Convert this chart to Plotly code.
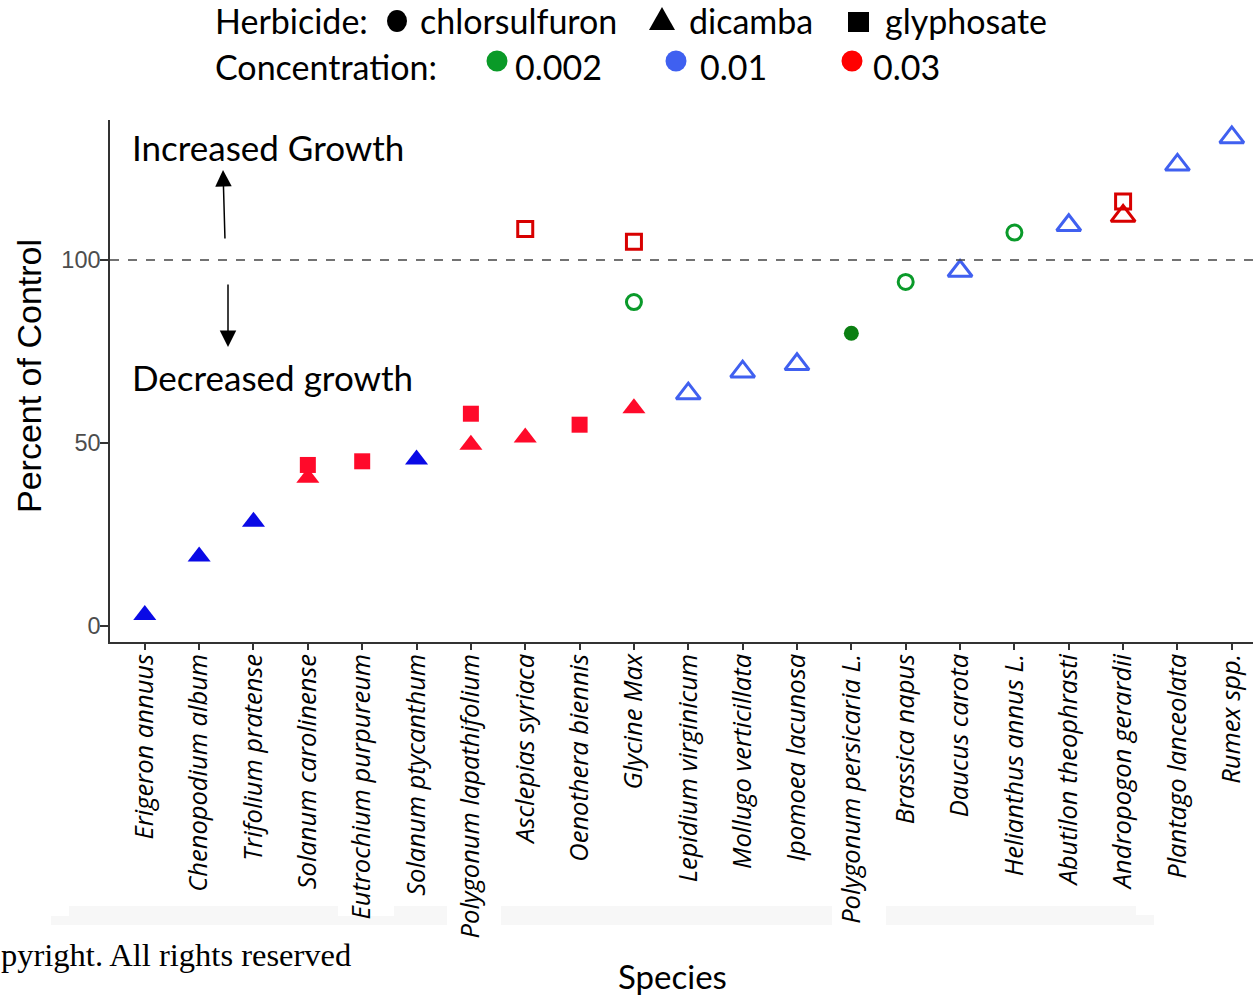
import plotly.graph_objects as go

# ---------------- data ----------------
species = [
    "Erigeron annuus", "Chenopodium album", "Trifolium pratense", "Solanum carolinense",
    "Eutrochium purpureum", "Solanum ptycanthum", "Polygonum lapathifolium",
    "Asclepias syriaca", "Oenothera biennis", "Glycine Max", "Lepidium virginicum",
    "Mollugo verticillata", "Ipomoea lacunosa", "Polygonum persicaria L.",
    "Brassica napus", "Daucus carota", "Helianthus annus L.", "Abutilon theophrasti",
    "Andropogon gerardii", "Plantago lanceolata", "Rumex spp.",
]

pt_species = [
    "Erigeron annuus", "Chenopodium album", "Trifolium pratense",
    "Solanum carolinense", "Solanum carolinense", "Eutrochium purpureum",
    "Solanum ptycanthum", "Polygonum lapathifolium", "Polygonum lapathifolium",
    "Asclepias syriaca", "Asclepias syriaca", "Oenothera biennis",
    "Glycine Max", "Glycine Max", "Glycine Max",
    "Lepidium virginicum", "Mollugo verticillata", "Ipomoea lacunosa",
    "Polygonum persicaria L.", "Brassica napus", "Daucus carota",
    "Helianthus annus L.", "Abutilon theophrasti",
    "Andropogon gerardii", "Andropogon gerardii",
    "Plantago lanceolata", "Rumex spp.",
]
pt_value = [
    3, 19, 28.5,
    44, 40.5, 45,
    45.5, 58, 49.5,
    51.5, 108.5, 55,
    59.5, 88.5, 105,
    63.5, 69.5, 71.5,
    80, 94, 97,
    107.5, 109.5,
    116, 112,
    126, 133.5,
]
pt_herbicide = [
    "dicamba", "dicamba", "dicamba",
    "glyphosate", "dicamba", "glyphosate",
    "dicamba", "glyphosate", "dicamba",
    "dicamba", "glyphosate", "glyphosate",
    "dicamba", "chlorsulfuron", "glyphosate",
    "dicamba", "dicamba", "dicamba",
    "chlorsulfuron", "chlorsulfuron", "dicamba",
    "chlorsulfuron", "dicamba",
    "glyphosate", "dicamba",
    "dicamba", "dicamba",
]
pt_conc = [
    0.01, 0.01, 0.01,
    0.03, 0.03, 0.03,
    0.01, 0.03, 0.03,
    0.03, 0.03, 0.03,
    0.03, 0.002, 0.03,
    0.01, 0.01, 0.01,
    0.002, 0.002, 0.01,
    0.002, 0.01,
    0.03, 0.03,
    0.01, 0.01,
]
pt_filled = [
    True, True, True,
    True, True, True,
    True, True, True,
    True, False, True,
    True, False, False,
    False, False, False,
    True, False, False,
    False, False,
    False, False,
    False, False,
]

herbicides = ["chlorsulfuron", "dicamba", "glyphosate"]
concentrations = [0.002, 0.01, 0.03]
conc_labels = ["0.002", "0.01", "0.03"]

# ---------------- styles ----------------
W, H = 1253, 998
ML, MR, MT, MB = 110, 0, 120, 356
PW, PH = W - ML - MR, H - MT - MB

filled_color = {0.002: "#0b7f12", 0.01: "#0a0ae6", 0.03: "#ff0a2a"}
open_color = {0.002: "#0a9a2a", 0.01: "#4060f0", 0.03: "#d80000"}
legend_color = {0.002: "#0a9a28", 0.01: "#3f60f0", 0.03: "#ff0000"}
sym_base = {"chlorsulfuron": "circle", "dicamba": "triangle-up", "glyphosate": "square"}
size_filled = {"chlorsulfuron": 15, "dicamba": 20, "glyphosate": 16}
size_open = {"chlorsulfuron": 15, "dicamba": 21, "glyphosate": 15}


def px(x):
    return (x - ML) / PW


def py(y):
    return (H - MB - y) / PH


fig = go.Figure()

for h in herbicides:
    for c in concentrations:
        for f in (True, False):
            xs = [s for s, hh, cc, ff in zip(pt_species, pt_herbicide, pt_conc, pt_filled)
                  if hh == h and cc == c and ff == f]
            ys = [v for v, hh, cc, ff in zip(pt_value, pt_herbicide, pt_conc, pt_filled)
                  if hh == h and cc == c and ff == f]
            if not xs:
                continue
            if f:
                marker = dict(symbol=sym_base[h], size=size_filled[h], color=filled_color[c],
                              line=dict(width=0))
            else:
                marker = dict(symbol=sym_base[h] + "-open", size=size_open[h],
                              color=open_color[c], line=dict(width=3, color=open_color[c]))
            fig.add_trace(go.Scatter(x=xs, y=ys, mode="markers", marker=marker,
                                     showlegend=False, cliponaxis=False))

axis_col = "#333333"
fig.update_xaxes(
    type="category", categoryorder="array", categoryarray=species,
    range=[-0.64, 20.39], showgrid=False, zeroline=False,
    showline=True, linecolor=axis_col, linewidth=1.5,
    ticks="outside", ticklen=6, tickwidth=1.5, tickcolor=axis_col,
    tickangle=-90, tickvals=species, ticktext=["<i>%s</i>" % s for s in species],
    tickfont=dict(family="Open Sans", size=25.5, color="#000000"),
    ticklabelstandoff=-6,
)
fig.update_yaxes(
    range=[-4.37, 138.25], showgrid=False, zeroline=False,
    showline=True, linecolor=axis_col, linewidth=1.5,
    ticks="outside", ticklen=8, tickwidth=1.5, tickcolor=axis_col,
    tickvals=[0, 50, 100], tickfont=dict(family="Liberation Sans", size=23.5, color="#4d4d4d"),
    ticklabelstandoff=-5,
)

band = "#f7f7f7"
shapes = []
for x0, x1, y0, y1 in [(51, 69, 916, 925), (69, 338, 906, 925), (338, 394, 916, 925),
                       (394, 447, 906, 925), (501, 832, 906, 925), (886, 1136, 906, 925),
                       (1136, 1154, 915, 925)]:
    shapes.append(dict(type="rect", xref="paper", yref="paper", x0=px(x0), x1=px(x1),
                       y0=py(y1), y1=py(y0), fillcolor=band, line=dict(width=0), layer="below"))
shapes.append(dict(type="line", xref="paper", yref="y", x0=0, x1=1, y0=100, y1=100,
                   line=dict(color="#444444", width=1.5, dash="dash")))


# legend symbols drawn as shapes (pixel positions)
def ell(cx, cy, rx, ry, color):
    shapes.append(dict(type="circle", xref="paper", yref="paper", x0=px(cx - rx), x1=px(cx + rx),
                       y0=py(cy + ry), y1=py(cy - ry), fillcolor=color, line=dict(width=0)))


ell(397, 21, 10, 11, "#000000")
shapes.append(dict(type="path", xref="paper", yref="paper",
                   path="M %f %f L %f %f L %f %f Z" % (px(649), py(30), px(675), py(30), px(662), py(7)),
                   fillcolor="#000000", line=dict(width=0)))
shapes.append(dict(type="rect", xref="paper", yref="paper", x0=px(848), x1=px(869),
                   y0=py(32), y1=py(12), fillcolor="#000000", line=dict(width=0)))
for cx, c in zip([497, 676, 852], concentrations):
    ell(cx, 61, 10.5, 10.5, legend_color[c])

sans = "Lato"
ann = []


def txt(x, y, t, size, color="#000000", family=sans, xanchor="left"):
    ann.append(dict(xref="paper", yref="paper", x=px(x), y=py(y), text=t, showarrow=False,
                    xanchor=xanchor, yanchor="middle", font=dict(family=family, size=size, color=color)))


# legend text
txt(213, 21, "Herbicide:", 34)
txt(418, 21, "chlorsulfuron", 34)
txt(687, 21, "dicamba", 34)
txt(883, 21, "glyphosate", 34)
txt(213, 66, "Concentration:", 34)
for lab, lx in zip(conc_labels, [513, 698, 871]):
    txt(lx, 66, lab, 34)

# annotation texts
txt(130, 147, "Increased Growth", 35)
txt(130, 377, "Decreased growth", 35)
txt(672, 976, "Species", 33, xanchor="center")
txt(-1, 955, "pyright. All rights reserved", 32.5, family="Liberation Serif")

# y title
ann.append(dict(xref="paper", yref="paper", x=px(29), y=py(376), text="Percent of Control",
                showarrow=False, textangle=-90, xanchor="center", yanchor="middle",
                font=dict(family="Liberation Sans", size=34, color="#000000")))

# arrows (tail offsets in pixels)
ann.append(dict(xref="paper", yref="paper", x=px(223), y=py(170), ax=2, ay=70,
                axref="pixel", ayref="pixel", text="", showarrow=True,
                arrowhead=2, arrowsize=2.2, arrowwidth=1.5, arrowcolor="#000000"))
ann.append(dict(xref="paper", yref="paper", x=px(228), y=py(347), ax=0, ay=-64,
                axref="pixel", ayref="pixel", text="", showarrow=True,
                arrowhead=2, arrowsize=2.2, arrowwidth=1.5, arrowcolor="#000000"))

fig.update_layout(
    width=W, height=H, autosize=False,
    margin=dict(l=ML, r=MR, t=MT, b=MB, pad=0),
    paper_bgcolor="white", plot_bgcolor="white",
    shapes=shapes, annotations=ann, showlegend=False,
)

fig.write_html("out.html", config={"displayModeBar": False},
               post_script="document.body.style.margin='0px';")
